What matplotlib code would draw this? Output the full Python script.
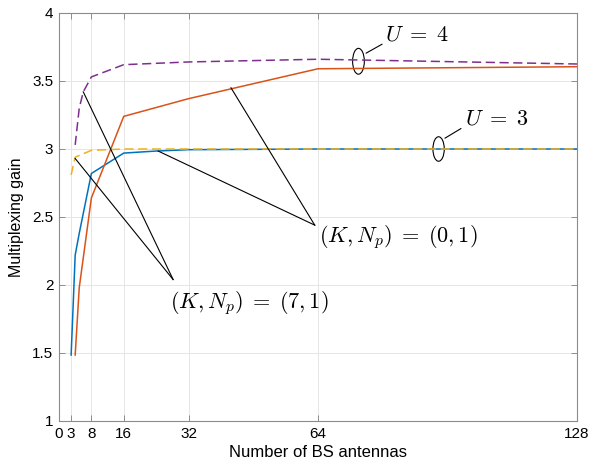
import matplotlib
matplotlib.use("Agg")
import matplotlib.pyplot as plt
from matplotlib.patches import Ellipse

plt.rcParams['font.family'] = ['Liberation Sans', 'DejaVu Sans']
plt.rcParams['mathtext.fontset'] = 'cm'

# Data
x_u3_k0 = [3, 4, 5, 8, 16, 24, 32, 64, 128]
y_u3_k0 = [1.485, 2.22, 2.38, 2.82, 2.97, 2.985, 2.995, 3.0, 3.0]
x_u4_k0 = [4, 5, 8, 16, 32, 64, 128]
y_u4_k0 = [1.485, 1.98, 2.64, 3.24, 3.37, 3.59, 3.605]
x_u3_k7 = [3, 4, 8, 16, 32, 64, 128]
y_u3_k7 = [2.81, 2.94, 2.99, 3.0, 3.0, 3.0, 3.0]
x_u4_k7 = [4, 5, 6, 8, 16, 32, 64, 128]
y_u4_k7 = [3.03, 3.30, 3.42, 3.53, 3.62, 3.64, 3.66, 3.625]

xticks = [0, 3, 8, 16, 32, 64, 128]
yticks = [1, 1.5, 2, 2.5, 3, 3.5, 4]

c_blue = '#0072BD'
c_orange = '#D95319'
c_yellow = '#EDB120'
c_purple = '#7E2F8E'

fig = plt.figure(figsize=(6, 4.68), dpi=100)
ax = fig.add_axes([59/600, 1 - 421/468, (577-59)/600, (421-13)/468])

ax.plot(x_u3_k0, y_u3_k0, color=c_blue, lw=1.1)
ax.plot(x_u4_k0, y_u4_k0, color=c_orange, lw=1.1)
ax.plot(x_u3_k7, y_u3_k7, color=c_yellow, lw=1.1, dashes=(6, 3))
ax.plot(x_u4_k7, y_u4_k7, color=c_purple, lw=1.1, dashes=(6, 3))

ax.set_xlim(0, 128)
ax.set_ylim(1, 4)
ax.set_xticks(xticks)
ax.set_xticklabels([str(t) for t in xticks])
ax.set_yticks(yticks)
ax.set_yticklabels(['1', '1.5', '2', '2.5', '3', '3.5', '4'])
ax.grid(True, color='#e6e6e6', lw=0.7)
ax.set_axisbelow(True)
ax.tick_params(direction='in', top=True, right=True, length=4, width=0.6,
               color='#7f7f7f', labelsize=11, pad=4)
for s in ax.spines.values():
    s.set_color('#8c8c8c')
    s.set_linewidth(0.8)
ax.set_xlabel('Number of BS antennas', fontsize=12, labelpad=3)
ax.set_ylabel('Multiplexing gain', fontsize=11.5, labelpad=6)

lbl0 = r'$(K, N_p)\;=\;(0, 1)$'
lbl7 = r'$(K, N_p)\;=\;(7, 1)$'

# Annotations (K, Np) = (0,1)
tip0 = (63.2, 2.44)
ax.plot([tip0[0], 42.5], [tip0[1], 3.45], color='k', lw=0.8)
ax.plot([tip0[0], 24.5], [tip0[1], 2.985], color='k', lw=0.8)
ax.text(64.3, 2.35, lbl0, fontsize=16, va='center', ha='left')

# (K, Np) = (7,1)
tip7 = (28.2, 2.04)
ax.plot([tip7[0], 6.0], [tip7[1], 3.42], color='k', lw=0.8)
ax.plot([tip7[0], 4.0], [tip7[1], 2.93], color='k', lw=0.8)
ax.text(27.5, 1.87, lbl7, fontsize=16, va='center', ha='left')

# U = 4 ellipse
ax.add_patch(Ellipse((74.0, 3.645), width=2.9, height=0.19, fill=False, color='k', lw=0.8))
ax.plot([75.9, 79.8], [3.705, 3.77], color='k', lw=0.8)
ax.text(80.6, 3.84, r'$U\;=\;4$', fontsize=16, va='center', ha='left')

# U = 3 ellipse
ax.add_patch(Ellipse((93.8, 3.0), width=2.8, height=0.18, fill=False, color='k', lw=0.8))
ax.plot([95.4, 99.3], [3.08, 3.15], color='k', lw=0.8)
ax.text(100.4, 3.22, r'$U\;=\;3$', fontsize=16, va='center', ha='left')

fig.savefig('out.png', dpi=100)
